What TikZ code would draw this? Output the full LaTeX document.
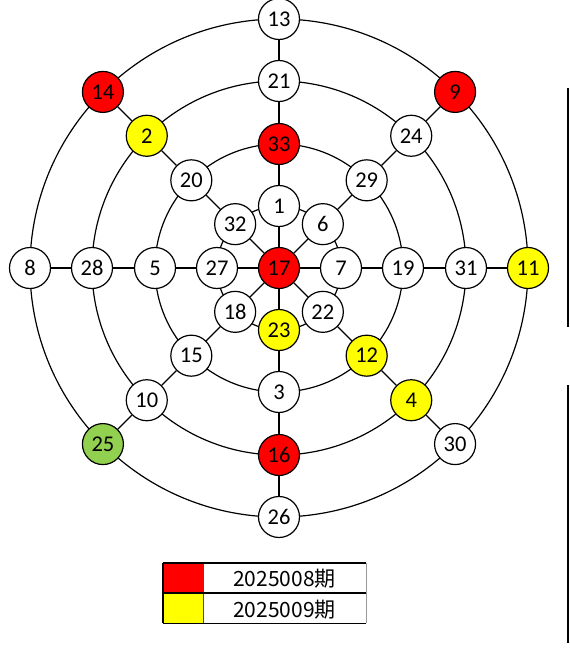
\documentclass[tikz,border=0pt]{standalone}
\usepackage{fontspec}
\setmainfont{Carlito}
\newfontfamily\cjkf{Noto Sans CJK SC}
\definecolor{ballred}{HTML}{FF0000}
\definecolor{ballyel}{HTML}{FFFF00}
\definecolor{ballgrn}{HTML}{92D050}
\begin{document}
\begin{tikzpicture}[x=1pt,y=1pt,
  ball/.style={circle,draw=black,line width=1.2pt,fill=white,minimum size=41pt,inner sep=0pt,font=\fontsize{22.5}{22.5}\selectfont},
  rb/.style={ball,fill=ballred},
  yb/.style={ball,fill=ballyel},
  gb/.style={ball,fill=ballgrn},
  ring/.style={line width=1.2pt},
  spoke/.style={line width=1.2pt},
  lgtext/.style={font=\cjkf\fontsize{21}{21}\selectfont,inner sep=0pt}]
\useasboundingbox (-279,-386) rectangle (291,268);
\coordinate (c) at (0,0);
% rings
\foreach \r in {62,124,187,249} \draw[ring] (c) circle (\r);
% nodes
\node[rb] (n17) at (0,0) {17};
% up
\node[ball] (n1) at (90:62) {1};
\node[rb] (n33) at (90:124) {33};
\node[ball] (n21) at (90:187) {21};
\node[ball] (n13) at (90:249) {13};
% upper right
\node[ball] (n6) at (45:62) {6};
\node[ball] (n29) at (45:124) {29};
\node[ball] (n24) at (45:187) {24};
\node[rb] (n9) at (45:249) {9};
% right
\node[ball] (n7) at (0:62) {7};
\node[ball] (n19) at (0:124) {19};
\node[ball] (n31) at (0:187) {31};
\node[yb] (n11) at (0:249) {11};
% lower right
\node[ball] (n22) at (-45:62) {22};
\node[yb] (n12) at (-45:124) {12};
\node[yb] (n4) at (-45:187) {4};
\node[ball] (n30) at (-45:249) {30};
% down
\node[yb] (n23) at (-90:62) {23};
\node[ball] (n3) at (-90:124) {3};
\node[rb] (n16) at (-90:187) {16};
\node[ball] (n26) at (-90:249) {26};
% lower left
\node[ball] (n18) at (-135:62) {18};
\node[ball] (n15) at (-135:124) {15};
\node[ball] (n10) at (-135:187) {10};
\node[gb] (n25) at (-135:249) {25};
% left
\node[ball] (n27) at (180:62) {27};
\node[ball] (n5) at (180:124) {5};
\node[ball] (n28) at (180:187) {28};
\node[ball] (n8) at (180:249) {8};
% upper left
\node[ball] (n32) at (135:62) {32};
\node[ball] (n20) at (135:124) {20};
\node[yb] (n2) at (135:187) {2};
\node[rb] (n14) at (135:249) {14};
% spokes
\draw[spoke] (n17) -- (n1) -- (n33) -- (n21) -- (n13);
\draw[spoke] (n17) -- (n6) -- (n29) -- (n24) -- (n9);
\draw[spoke] (n17) -- (n7) -- (n19) -- (n31) -- (n11);
\draw[spoke] (n17) -- (n22) -- (n12) -- (n4) -- (n30);
\draw[spoke] (n17) -- (n23) -- (n3) -- (n16) -- (n26);
\draw[spoke] (n17) -- (n18) -- (n15) -- (n10) -- (n25);
\draw[spoke] (n17) -- (n27) -- (n5) -- (n28) -- (n8);
\draw[spoke] (n17) -- (n32) -- (n20) -- (n2) -- (n14);
% right vertical lines
\coordinate (v1a) at (289,180);
\coordinate (v1b) at (289,-59);
\coordinate (v2a) at (289,-117);
\coordinate (v2b) at (289,-375);
\draw[line width=2pt] (v1a) -- (v1b);
\draw[line width=2pt] (v2a) -- (v2b);
% legend
\fill[ballred] (-116,-295) rectangle (-76,-325);
\fill[ballyel] (-116,-325) rectangle (-76,-355);
\draw[black!70,line width=0.6pt] (-76,-295) -- (-76,-355);
\draw[black!40,line width=0.6pt] (87,-295) -- (87,-355);
\draw[line width=1.2pt] (-116,-295) -- (87,-295);
\draw[line width=1.6pt] (-116,-325) -- (87,-325);
\draw[line width=0.9pt] (-116,-355) -- (87,-355);
\draw[line width=1.2pt] (-116,-295) -- (-116,-355);
\node[lgtext] (l1) at (5.5,-311) {2025008期};
\node[lgtext] (l2) at (5.5,-342) {2025009期};
\end{tikzpicture}
\end{document}
